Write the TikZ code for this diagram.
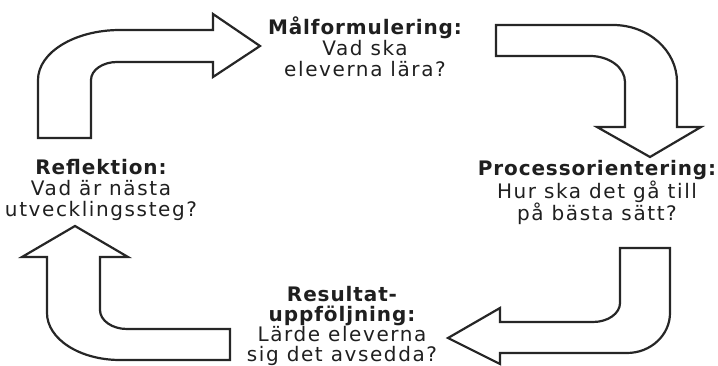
\documentclass[tikz,border=0pt]{standalone}
\usepackage{fontspec}
\newfontfamily\lblfont[LetterSpace=8]{DejaVu Sans}
\newfontfamily\hdfont[LetterSpace=4.5]{DejaVu Sans Bold}
\newcommand{\hd}[1]{{\hdfont #1}}
\begin{document}
\begin{tikzpicture}[x=1pt,y=-1pt,
  blockarrow/.style={draw=black!85, line width=2.2pt, fill=white, line join=miter, miter limit=10},
  lbl/.style={align=center, inner sep=0pt, text=black!88,
    font=\fontsize{20}{21}\selectfont\lblfont}]
\useasboundingbox (0,0) rectangle (718,366);
% arrow 1: up then right
\path[blockarrow] (38,138) -- (38,80) .. controls (38,52.4) and (74.7,30) .. (120,30)
  -- (213,30) -- (213,14) -- (260,46) -- (213,77) -- (213,62) -- (117,62)
  .. controls (102.6,62) and (91,70.1) .. (91,80) -- (91,138) -- cycle;
% arrow 2: right then down
\path[blockarrow] (496,25) -- (613,25) .. controls (648.3,25) and (677,50.5) .. (677,82)
  -- (677,127) -- (701,127) -- (650,157) -- (597,127) -- (625,127) -- (625,82)
  .. controls (625,67.6) and (609.3,56) .. (590,56) -- (496,56) -- cycle;
% arrow 3: down then left
\path[blockarrow] (620,248) -- (670,248) -- (670,313) .. controls (670,335.1) and (650.7,353) .. (627,353)
  -- (500,353) -- (500,364) -- (448,338) -- (500,308) -- (500,322) -- (593,322)
  .. controls (607.9,322) and (620,313.5) .. (620,303) -- cycle;
% arrow 4: left then up
\path[blockarrow] (230,329) -- (230,360) -- (120,360) .. controls (79.7,360) and (47,339) .. (47,313)
  -- (47,257) -- (22,257) -- (75,226) -- (128,257) -- (100,257) -- (100,310)
  .. controls (100,320.5) and (112.1,329) .. (127,329) -- cycle;
% labels
\node[lbl] (mal) at (365,47) {\hd{Målformulering:}\\Vad ska\\eleverna lära?};
\node[lbl] (proc) at (597,192.5) {\hd{Processorientering:}\\Hur ska det gå till\\på bästa sätt?};
\node[lbl, font=\fontsize{20}{20.3}\selectfont\lblfont] (res) at (342,326) {\hd{Resultat-}\\\hd{uppföljning:}\\Lärde eleverna\\sig det avsedda?};
\node[lbl] (refl) at (101,190) {\hd{Reflektion:}\\Vad är nästa\\utvecklingssteg?};
\end{tikzpicture}
\end{document}
